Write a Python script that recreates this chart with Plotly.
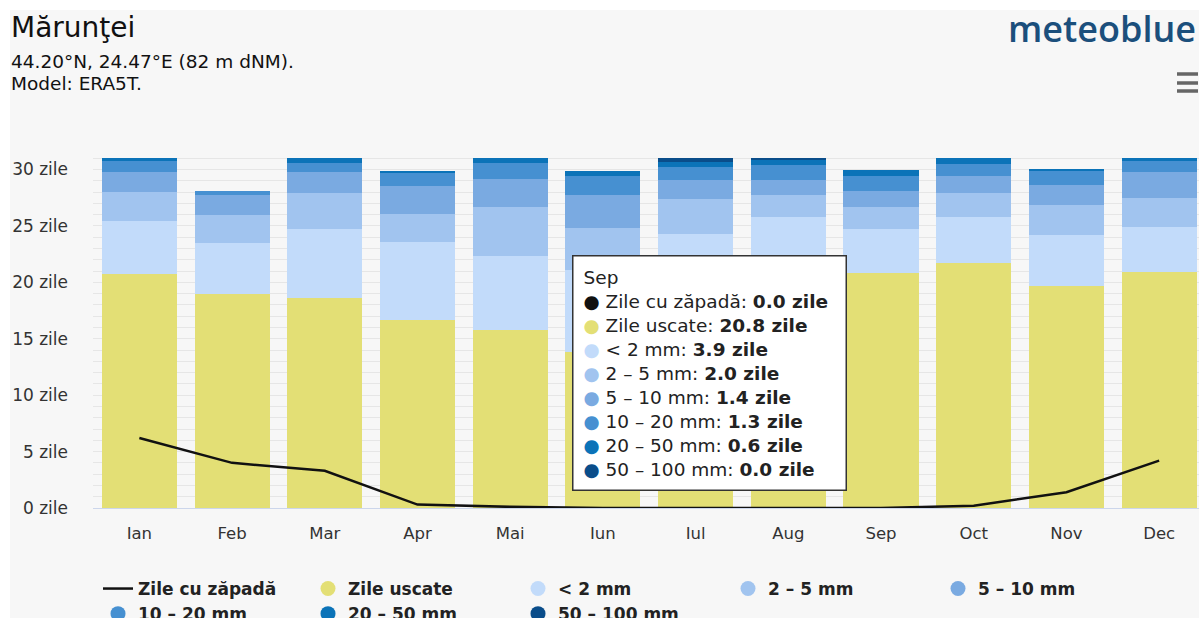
import plotly.graph_objects as go

months = ["Ian", "Feb", "Mar", "Apr", "Mai", "Iun", "Iul", "Aug", "Sep", "Oct", "Nov", "Dec"]
snow_days = [6.2, 4.0, 3.3, 0.3, 0.1, 0.0, 0.0, 0.0, 0.0, 0.2, 1.4, 4.2]
dry_days = [20.7, 19.0, 18.6, 16.7, 15.8, 13.8, 19.8, 21.5, 20.8, 21.7, 19.7, 20.9]
lt2mm = [4.7, 4.5, 6.1, 6.9, 6.5, 7.3, 4.5, 4.3, 3.9, 4.1, 4.5, 4.0]
mm2_5 = [2.6, 2.5, 3.2, 2.5, 4.4, 3.7, 3.1, 1.9, 2.0, 2.1, 2.7, 2.6]
mm5_10 = [1.8, 1.7, 1.9, 2.4, 2.5, 2.9, 1.7, 1.4, 1.4, 1.5, 1.7, 2.3]
mm10_20 = [1.0, 0.4, 0.8, 1.2, 1.4, 1.7, 1.1, 1.3, 1.3, 1.1, 1.3, 1.0]
mm20_50 = [0.2, 0.0, 0.4, 0.2, 0.4, 0.5, 0.5, 0.5, 0.6, 0.5, 0.1, 0.2]
mm50_100 = [0.0, 0.0, 0.0, 0.0, 0.0, 0.0, 0.3, 0.1, 0.0, 0.0, 0.0, 0.0]

y_ticks = [0, 5, 10, 15, 20, 25, 30]
y_tick_labels = [f"{v} zile" for v in y_ticks]

series_names = ["Zile uscate", "< 2 mm", "2 – 5 mm", "5 – 10 mm", "10 – 20 mm", "20 – 50 mm", "50 – 100 mm"]
series_vals = [dry_days, lt2mm, mm2_5, mm5_10, mm10_20, mm20_50, mm50_100]
series_colors = ["#e3df75", "#c2dbfa", "#a1c4ef", "#7aaae1", "#4690d1", "#0b73b8", "#0a4d8a"]
snow_name = "Zile cu zăpadă"
tip_month = "Sep"

FONT = "DejaVu Sans"

W, H = 1199, 618
# plot area in screen pixels
L, R, T, B = 93, 1199, 156, 508


def px(x):
    return (x - L) / (R - L)


def py(y):
    return (B - y) / (B - T)


fig = go.Figure()

for name, vals, col in zip(series_names, series_vals, series_colors):
    fig.add_trace(go.Bar(
        x=months, y=vals, name=name, marker=dict(color=col, line=dict(width=0)),
        showlegend=False, hoverinfo="skip"))

fig.add_trace(go.Scatter(
    x=months, y=snow_days, mode="lines", name=snow_name,
    line=dict(color="#111111", width=2.5), showlegend=True, hoverinfo="skip"))

# legend entries with circle symbols
for name, col in zip(series_names, series_colors):
    fig.add_trace(go.Scatter(
        x=[None], y=[None], mode="markers", name=name,
        marker=dict(color=col, size=15, symbol="circle"), showlegend=True))

# tooltip-like box for Sep
idx = months.index(tip_month)
lines = [f"{tip_month}",
         f"<span style='color:#111111'>●</span> {snow_name}: <b>{snow_days[idx]:.1f} zile</b>"]
for name, vals, col in zip(series_names, series_vals, series_colors):
    lines.append(f"<span style='color:{col}'>●</span> {name}: <b>{vals[idx]:.1f} zile</b>")
tip_text = "<br>".join(lines)

annotations = [
    dict(text="Mărunţei", xref="paper", yref="paper", x=px(9), y=py(27),
         xanchor="left", yanchor="middle", showarrow=False,
         font=dict(family=FONT, size=28, color="#111111")),
    dict(text="44.20°N, 24.47°E (82 m dNM).", xref="paper", yref="paper", x=px(9), y=py(61),
         xanchor="left", yanchor="middle", showarrow=False,
         font=dict(family=FONT, size=18.5, color="#111111")),
    dict(text="Model: ERA5T.", xref="paper", yref="paper", x=px(9), y=py(84),
         xanchor="left", yanchor="middle", showarrow=False,
         font=dict(family=FONT, size=18.5, color="#111111")),
    dict(text="meteoblue", xref="paper", yref="paper", x=px(1198), y=py(29),
         xanchor="right", yanchor="middle", showarrow=False,
         font=dict(family="Open Sans", size=36, color="#1b4f7c", weight=600)),
    dict(text=tip_text, xref="paper", yref="paper", x=px(572), y=py(255),
         xanchor="left", yanchor="top", showarrow=False, align="left",
         bgcolor="#ffffff", bordercolor="#333333", borderwidth=1.5, borderpad=10,
         width=252, font=dict(family=FONT, size=18.5, color="#222222")),
]

shapes = [
    dict(type="rect", xref="paper", yref="paper", x0=px(10), x1=px(1210), y0=py(640), y1=py(10),
         fillcolor="#f7f7f7", line=dict(width=0), layer="below"),
]
for yy in (74, 83, 91):
    shapes.append(dict(type="line", xref="paper", yref="paper", x0=px(1177), x1=px(1198),
                       y0=py(yy), y1=py(yy), line=dict(color="#666666", width=3.5)))

fig.update_layout(
    width=W, height=H,
    margin=dict(l=L, r=W - R, t=T, b=H - B, pad=0),
    paper_bgcolor="#ffffff", plot_bgcolor="rgba(0,0,0,0)",
    barmode="stack", bargap=0.19,
    font=dict(family=FONT, color="#333333"),
    showlegend=True,
    legend=dict(orientation="h", xref="container", x=98 / W, yref="container",
                y=1 - 571 / H, xanchor="left", yanchor="top",
                entrywidth=165, entrywidthmode="pixels", traceorder="normal",
                font=dict(family=FONT, size=17, color="#222222", weight="bold"),
                bgcolor="rgba(0,0,0,0)", itemwidth=30, tracegroupgap=0),
    annotations=annotations,
    shapes=shapes,
    xaxis=dict(range=[-0.5, 11.43], showgrid=False, showline=True, linecolor="#ccd6eb",
               linewidth=1, ticks="", tickfont=dict(size=16.5, color="#333333"),
               ticklabelstandoff=10, fixedrange=True),
    yaxis=dict(range=[0, 31.2], tickvals=y_ticks, ticktext=y_tick_labels,
               showgrid=True, gridcolor="#e6e6e6", gridwidth=1, zeroline=False,
               minor=dict(dtick=1, tick0=0, showgrid=True, gridcolor="#e6e6e6", gridwidth=1),
               tickfont=dict(size=17, color="#333333"), ticklabelstandoff=24,
               fixedrange=True),
)

fig.write_html(
    "out.html",
    config={"displayModeBar": False},
    post_script="document.body.style.margin='0';document.body.style.overflow='hidden';",
)
